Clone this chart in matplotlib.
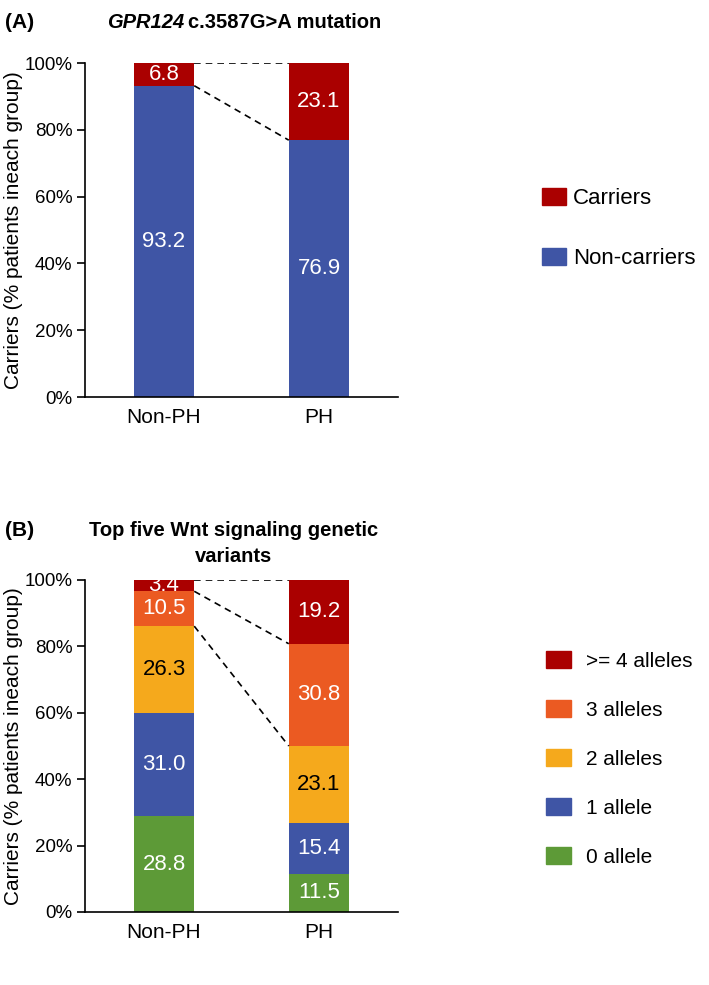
import matplotlib.pyplot as plt
from matplotlib.patches import Patch

plt.rcParams['font.family'] = ['Liberation Sans', 'DejaVu Sans']

groups = ["Non-PH", "PH"]

# panel A
a_labels = ["Non-carriers", "Carriers"]
a_values = [[93.2, 76.9], [6.8, 23.1]]
a_colors = ["#3F55A5", "#AA0000"]
a_textcol = ["white", "white"]

# panel B
b_labels = ["0 allele", "1 allele", "2 alleles", "3 alleles", ">= 4 alleles"]
b_values = [[28.8, 11.5], [31.0, 15.4], [26.3, 23.1], [10.5, 30.8], [3.4, 19.2]]
b_colors = ["#5D9A37", "#3F55A5", "#F5A91C", "#EB5A22", "#AA0000"]
b_textcol = ["white", "white", "black", "white", "white"]

W, H = 709, 985
BAR_W = 0.39


def px_axes(fig, left, top, right, bottom):
    return fig.add_axes([left / W, 1 - bottom / H, (right - left) / W, (bottom - top) / H])


def stacked(ax, labels, values, colors, textcol):
    x = [0, 1]
    bottoms = [0.0, 0.0]
    tops = []
    for lab, vals, col, tc in zip(labels, values, colors, textcol):
        ax.bar(x, [v / 100 for v in vals], BAR_W, bottom=bottoms, color=col, label=lab)
        for xi, v, b in zip(x, vals, bottoms):
            ax.text(xi, b + v / 200, f"{v:.1f}", ha='center', va='center',
                    color=tc, fontsize=16)
        bottoms = [b + v / 100 for b, v in zip(bottoms, vals)]
        tops.append(list(bottoms))
    return tops


def style(ax):
    ax.set_xlim(-0.51, 1.51)
    ax.set_ylim(0, 1)
    ax.set_xticks([0, 1])
    ax.set_xticklabels(groups, fontsize=15)
    ax.tick_params(axis='x', length=0, pad=8)
    ax.tick_params(axis='y', length=6, direction='out', labelsize=13.5, width=1.2, pad=3)
    ax.set_yticks([0, 0.2, 0.4, 0.6, 0.8, 1.0])
    ax.set_yticklabels(["0%", "20%", "40%", "60%", "80%", "100%"])
    for s in ['top', 'right']:
        ax.spines[s].set_visible(False)
    ax.spines['left'].set_linewidth(1.2)
    ax.spines['bottom'].set_linewidth(1.2)
    ax.set_ylabel("Carriers (% patients ineach group)", fontsize=15)
    ax.yaxis.set_label_coords(-62 / 313, 0.5)


def connect(ax, tops, idx):
    for i in idx:
        t = tops[i]
        ax.plot([BAR_W / 2, 1 - BAR_W / 2], [t[0], t[1]], ls=(0, (4, 3)),
                color='black', lw=1.2)


fig = plt.figure(figsize=(W / 100, H / 100), dpi=100)

# ---- panel A ----
axA = px_axes(fig, 85, 63, 398, 397)
topsA = stacked(axA, a_labels, a_values, a_colors, a_textcol)
connect(axA, topsA, [0, 1])
style(axA)
hA = [Patch(color=c) for c in a_colors[::-1]]
fig.legend(hA, a_labels[::-1], loc='upper left', bbox_to_anchor=(542 / W, 1 - 188 / H),
           frameon=False, fontsize=16, handlelength=1.1, handleheight=0.8,
           labelspacing=1.75, handletextpad=0.3, borderpad=0, borderaxespad=0)

fig.text(5 / W, 1 - 23 / H, "(A)", fontsize=15, fontweight='bold', va='center')
fig.text(184 / W, 1 - 23 / H, "GPR124", fontsize=14.5, fontweight='bold',
         style='italic', va='center', ha='right')
fig.text(188 / W, 1 - 23 / H, "c.3587G>A mutation", fontsize=14.5, fontweight='bold',
         va='center', ha='left')

# ---- panel B ----
axB = px_axes(fig, 85, 580, 398, 912)
topsB = stacked(axB, b_labels, b_values, b_colors, b_textcol)
connect(axB, topsB, [2, 3, 4])
style(axB)
hB = [Patch(color=c) for c in b_colors[::-1]]
fig.legend(hB, b_labels[::-1], loc='upper left', bbox_to_anchor=(546 / W, 1 - 651 / H),
           frameon=False, fontsize=15, handlelength=1.2, handleheight=0.85,
           labelspacing=1.42, handletextpad=0.7, borderpad=0, borderaxespad=0)

fig.text(5 / W, 1 - 530 / H, "(B)", fontsize=15, fontweight='bold', va='center')
fig.text(234 / W, 1 - 530 / H, "Top five Wnt signaling genetic", fontsize=14.5,
         fontweight='bold', va='center', ha='center')
fig.text(234 / W, 1 - 557 / H, "variants", fontsize=14.5,
         fontweight='bold', va='center', ha='center')

fig.savefig("out.png", dpi=100)
